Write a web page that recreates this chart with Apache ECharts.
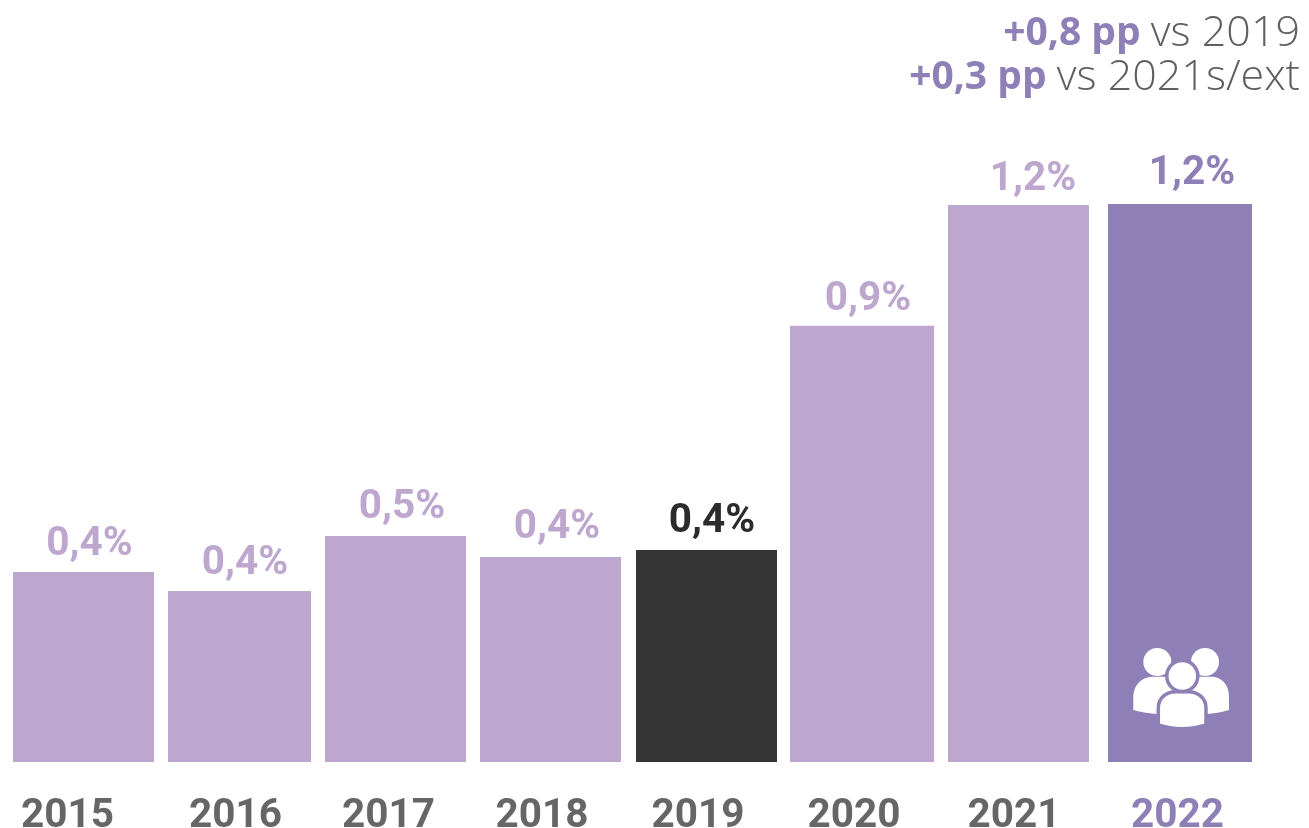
<!DOCTYPE html>
<html>
<head>
<meta charset="utf-8">
<style>
  html, body { margin: 0; background: #fff; }
  #main { width: 1309px; height: 828px; }
</style>
<script src="https://cdn.jsdelivr.net/npm/echarts@6/dist/echarts.min.js"></script>
</head>
<body>
<div id="main"></div>
<script>
  // data
  const years = ['2015', '2016', '2017', '2018', '2019', '2020', '2021', '2022']
  const values = [0.404, 0.364, 0.481, 0.436, 0.451, 0.928, 1.185, 1.187]
  const valueLabels = ['0,4%', '0,4%', '0,5%', '0,4%', '0,4%', '0,9%', '1,2%', '1,2%']

  const LIGHT = '#bea7ce'
  const DARK = '#343434'
  const PURPLE = '#8f7fb7'
  const GREY = '#666666'

  // the original is hand placed, so the marks do not sit quite evenly on the bands
  const barWidths = [141, 143, 141, 141, 141, 144, 141, 144]
  const barShift = [0, 0.5, 1, 0.5, 1, 1, 2, 8]
  const labelShift = [6, 5.5, 6.5, 6.5, 5.5, 6, 14.5, 12]
  const labelGap = [27, 27, 28, 29, 28, 26, 25, 30]
  const yearShift = [-16, -3.5, -6, -8, -7.5, -7, -2.5, 5.5]
  const yearLift = [0, 0, 0, 0, 0, 0, 3, 5]

  function barColor(i) {
    if (i === 4) return DARK
    if (i === 7) return PURPLE
    return LIGHT
  }
  function valueColor(i) {
    if (i === 4) return '#2b2b2b'
    if (i === 7) return PURPLE
    return LIGHT
  }

  // one rich style per year label, padding moves it off the band centre
  const yearRich = {}
  years.forEach((y, i) => {
    yearRich['y' + i] = {
      fontFamily: 'Roboto',
      fontWeight: 700,
      fontSize: 40.5,
      color: i === 7 ? PURPLE : GREY,
      padding: [
        0,
        yearShift[i] < 0 ? -2 * yearShift[i] : 0,
        yearLift[i] * 2,
        yearShift[i] > 0 ? 2 * yearShift[i] : 0
      ]
    }
  })

  // people icon on the 2022 bar
  const peopleIcon = [
    { type: 'circle', shape: { cx: 1157.3, cy: 662, r: 14 }, style: { fill: '#fff' } },
    { type: 'circle', shape: { cx: 1205, cy: 662, r: 14 }, style: { fill: '#fff' } },
    { type: 'path', shape: { pathData: 'M1133.3 710 L1133.3 697 C1133.3 684 1143 676.7 1153 676.7 L1211 676.7 C1221 676.7 1229 684 1229 697 L1229 710 C1222 712.5 1214 713.5 1206 714 L1158 714 C1150 713.5 1141 712.5 1133.3 710 Z' }, style: { fill: '#fff' } },
    { type: 'path', shape: { pathData: 'M1158.3 725 L1158.3 708 C1158.3 698 1166 691.7 1176 691.7 L1188 691.7 C1198 691.7 1206 698 1206 708 L1206 725 C1191 730 1173 730 1158.3 725 Z' }, style: { fill: '#fff', stroke: PURPLE, lineWidth: 3.5 } },
    { type: 'circle', shape: { cx: 1182.3, cy: 676, r: 15.5 }, style: { fill: '#fff', stroke: PURPLE, lineWidth: 3.5 } }
  ]

  function renderBar(params, api) {
    const i = params.dataIndex
    const top = api.coord([i, api.value(1)])
    const base = api.coord([i, 0])
    const w = barWidths[i]
    const cx = top[0] + barShift[i]
    const children = [
      {
        type: 'rect',
        shape: { x: cx - w / 2, y: top[1], width: w, height: base[1] - top[1] },
        style: { fill: barColor(i) }
      },
      {
        type: 'text',
        style: {
          x: cx + labelShift[i],
          y: top[1] - labelGap[i],
          text: valueLabels[i],
          align: 'center',
          verticalAlign: 'middle',
          fill: valueColor(i),
          font: '700 40.5px Roboto'
        }
      }
    ]
    return { type: 'group', children: i === 7 ? children.concat(peopleIcon) : children }
  }

  const chart = echarts.init(document.getElementById('main'))
  chart.setOption({
    animation: false,
    title: {
      right: 9,
      top: 12,
      padding: 0,
      // the space stays inside a token so the whole line packs to the right
      text: '{b|+0,8 pp }{l|vs 2019}\n{b|+0,3 pp }{l|vs 2021s/ext}',
      textStyle: {
        rich: {
          b: { fontFamily: 'Open Sans', fontWeight: 700, fontSize: 39, color: PURPLE, lineHeight: 44, align: 'right' },
          l: { fontFamily: 'Open Sans', fontWeight: 300, fontSize: 43, color: '#5f5f5f', lineHeight: 44, align: 'right' }
        }
      }
    },
    grid: { left: 5.75, top: 10, width: 1244, height: 752, outerBoundsMode: 'none' },
    xAxis: {
      type: 'category',
      data: years,
      axisLine: { show: false },
      axisTick: { show: false },
      axisLabel: {
        margin: 34,
        interval: 0,
        formatter: (v, i) => '{y' + i + '|' + v + '}',
        rich: yearRich
      }
    },
    yAxis: { type: 'value', min: 0, max: 1.6, show: false },
    series: [{
      type: 'custom',
      coordinateSystem: 'cartesian2d',
      data: values.map((v, i) => [i, v]),
      encode: { x: 0, y: 1 },
      renderItem: renderBar
    }]
  })
</script>
</body>
</html>
